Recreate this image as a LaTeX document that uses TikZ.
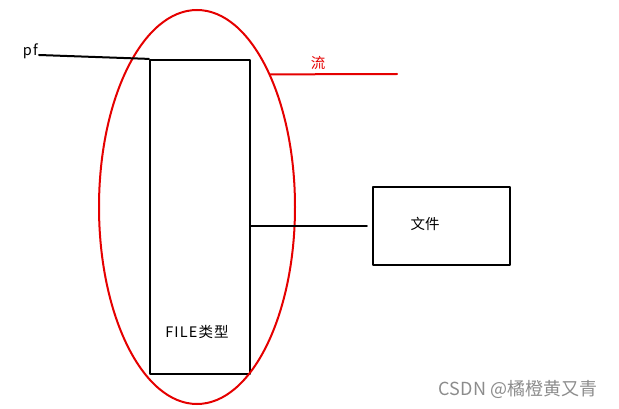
\documentclass[tikz,border=0pt]{standalone}
\usepackage{fontspec}
\newfontfamily\cjk{Noto Sans CJK SC}
\usetikzlibrary{shapes.geometric}
\tikzset{
  frame/.style={draw=black,line width=2.2pt,inner sep=0pt},
  redline/.style={draw=red!90!black,line width=2pt},
  lbl/.style={inner sep=1pt,font=\cjk\fontsize{14.5}{16}\selectfont}
}
\begin{document}
\begin{tikzpicture}[x=1pt,y=-1pt,line join=round,line cap=round]
				\useasboundingbox (0,0) rectangle (619,409);
				\def \rx{98};
				\def \ry{197};
				% big box and the red ring
				\node[frame,minimum width=100pt,minimum height=314pt] (F) at (200,217) {};
				\node[ellipse,redline,minimum width=2*\rx pt,minimum height=2*\ry pt,inner sep=0pt] (E) at (197,207) {};
				\node[lbl,font=\cjk\fontsize{14.5}{16}\selectfont\addfontfeatures{LetterSpace=8}] (ft) at (197,332) {FILE类型};
				% file box
				\node[frame,minimum width=137pt,minimum height=78pt] (W) at (441.5,226) {};
				\node[lbl] (wj) at (425,224) {文件};
				\node[lbl,anchor=east,font=\cjk\fontsize{14.5}{16}\selectfont\addfontfeatures{LetterSpace=8}] (pf) at (39,51) {pf};
				\path (397,74) coordinate (flow);
				\draw[line width=2pt] (pf.east|-0,55) -- (F.north west);
				\draw[line width=2pt] (W.west-|F.east) -- ([xshift=-5]W.west);
				\draw[redline] (E.61) -- (flow);
				\node[lbl,text=red!90!black] (liu) at (318,63) {流};
				\node[inner sep=0pt,text=black!45,font=\cjk\fontsize{18}{20}\selectfont] (wm) at (518,389) {CSDN @橘橙黄又青};
			\end{tikzpicture}
\end{document}
